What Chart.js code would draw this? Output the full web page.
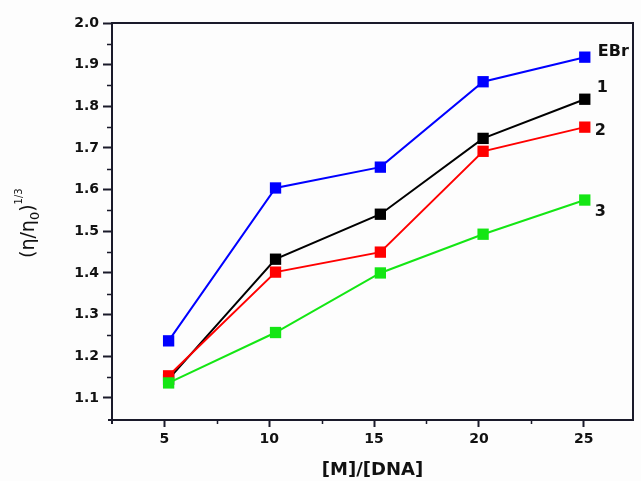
<!DOCTYPE html>
<html>
<head>
<meta charset="utf-8">
<script src="https://cdn.jsdelivr.net/npm/chart.js@4/dist/chart.umd.min.js"></script>
<style>
	html, body { margin: 0; padding: 0; background: #fdfdfd; }
	canvas { display: block; }
</style>
</head>
<body>
<canvas id="viscosityChart" width="641" height="481"></canvas>
<script>
// [M]/[DNA] ratios and relative viscosity (eta/eta0)^(1/3) per compound
const ratios = [ 5.2, 10.3, 15.3, 20.2, 25.05 ];
const ebrValues = [ 1.237, 1.604, 1.654, 1.859, 1.918 ];
const c1Values = [ 1.145, 1.433, 1.541, 1.723, 1.817 ];
const c2Values = [ 1.153, 1.402, 1.450, 1.692, 1.750 ];
const c3Values = [ 1.136, 1.257, 1.400, 1.493, 1.575 ];

const xTicks = [ 5, 10, 15, 20, 25 ];
const xMinorTicks = [ 7.5, 12.5, 17.5, 22.5 ];
const yTicks = [ 1.1, 1.2, 1.3, 1.4, 1.5, 1.6, 1.7, 1.8, 1.9, 2.0 ];
const yMinorTicks = [ 1.15, 1.25, 1.35, 1.45, 1.55, 1.65, 1.75, 1.85, 1.95 ];

const AXIS_FONT = 'DejaVu Sans';

function toPoints( values ) {
	return values.map( ( v, i ) => ( { x: ratios[ i ], y: v } ) );
}

function series( label, values, color, order, tag ) {
	return {
		label,
		data: toPoints( values ),
		borderColor: color,
		backgroundColor: color,
		borderWidth: 2,
		pointStyle: 'rect',
		pointRadius: 8,
		pointHoverRadius: 8,
		pointBorderWidth: 0,
		tension: 0,
		order,
		tag
	};
}

// Frame, minor ticks, axis title and end-of-line labels
const decorations = {
	id: 'decorations',
	afterDraw( chart ) {
		const { ctx, chartArea: a, scales } = chart;
		const xs = scales.x;
		const ys = scales.y;
		ctx.save();
		ctx.strokeStyle = '#1a1a2a';
		ctx.lineWidth = 2;
		ctx.beginPath();
		ctx.moveTo( a.left - 1, a.top );
		ctx.lineTo( a.right, a.top );
		ctx.lineTo( a.right, a.bottom );
		ctx.moveTo( a.left - 4, a.bottom );
		ctx.lineTo( a.left, a.bottom );
		ctx.moveTo( a.left, a.bottom );
		ctx.lineTo( a.left, a.bottom + 4 );
		ctx.stroke();

		ctx.lineWidth = 1.5;
		ctx.beginPath();
		yMinorTicks.forEach( ( v ) => {
			const y = Math.round( ys.getPixelForValue( v ) ) + 0.5;
			ctx.moveTo( a.left - 5, y );
			ctx.lineTo( a.left, y );
		} );
		xMinorTicks.forEach( ( v ) => {
			const x = Math.round( xs.getPixelForValue( v ) ) + 0.5;
			ctx.moveTo( x, a.bottom );
			ctx.lineTo( x, a.bottom + 4 );
		} );
		ctx.stroke();

		// (η/η0)^1/3 rotated title
		ctx.fillStyle = '#111';
		ctx.translate( 34, 258 );
		ctx.rotate( -Math.PI / 2 );
		ctx.textBaseline = 'alphabetic';
		ctx.textAlign = 'left';
		let x = 0;
		ctx.font = '19px ' + AXIS_FONT;
		ctx.fillText( '(η/η', x, 0 );
		x += ctx.measureText( '(η/η' ).width;
		ctx.font = '13px ' + AXIS_FONT;
		ctx.fillText( '0', x, 5 );
		x += ctx.measureText( '0' ).width;
		ctx.font = '19px ' + AXIS_FONT;
		ctx.fillText( ')', x, 0 );
		x += ctx.measureText( ')' ).width;
		ctx.font = '10px ' + AXIS_FONT;
		ctx.fillText( '1/3', x, -12 );
		ctx.restore();

		// series names next to the last point of each line
		ctx.save();
		ctx.fillStyle = '#111';
		ctx.font = 'bold 16px ' + AXIS_FONT;
		ctx.textBaseline = 'middle';
		ctx.textAlign = 'left';
		chart.data.datasets.forEach( ( ds, i ) => {
			const pts = chart.getDatasetMeta( i ).data;
			const last = pts[ pts.length - 1 ];
			ctx.fillText( ds.label, last.x + ds.tag.dx, last.y + ds.tag.dy );
		} );
		ctx.restore();
	}
};

new Chart( document.getElementById( 'viscosityChart' ), {
	type: 'line',
	data: {
		datasets: [
			series( '3', c3Values, '#14e614', 0, { dx: 10, dy: 12 } ),
			series( '2', c2Values, '#ff0000', 1, { dx: 10, dy: 4 } ),
			series( '1', c1Values, '#000000', 2, { dx: 12, dy: -11 } ),
			series( 'EBr', ebrValues, '#0000ff', 3, { dx: 13, dy: -5 } )
		]
	},
	options: {
		responsive: false,
		animation: false,
		layout: { padding: { left: 0, top: 23, right: 1, bottom: 0 } },
		plugins: {
			legend: { display: false },
			tooltip: { enabled: false },
			title: { display: false }
		},
		scales: {
			x: {
				type: 'linear',
				min: 2.5,
				max: 27.35,
				afterBuildTicks: ( s ) => {
					s.ticks = xTicks.map( ( v ) => ( { value: v } ) );
				},
				afterFit: ( s ) => {
					s.height = 61;
					// tick labels sit well inside the axis, no edge room needed
					s.paddingLeft = 0;
					s.paddingRight = 0;
				},
				border: { display: true, color: '#1a1a2a', width: 2 },
				grid: {
					drawOnChartArea: false,
					drawTicks: true,
					tickLength: 7,
					tickColor: '#1a1a2a',
					tickWidth: 2
				},
				ticks: {
					color: '#111',
					padding: 4,
					maxRotation: 0,
					font: { family: AXIS_FONT, size: 14, weight: 'bold' }
				},
				title: {
					display: true,
					text: '[M]/[DNA]',
					color: '#111',
					padding: { top: 9, bottom: 0 },
					font: { family: AXIS_FONT, size: 18, weight: 'bold' }
				}
			},
			y: {
				type: 'linear',
				min: 1.047,
				max: 2.0,
				afterBuildTicks: ( s ) => {
					s.ticks = yTicks.map( ( v ) => ( { value: v } ) );
				},
				afterFit: ( s ) => {
					s.width = 112;
				},
				border: { display: true, color: '#1a1a2a', width: 2 },
				grid: {
					drawOnChartArea: false,
					drawTicks: true,
					tickLength: 9,
					tickColor: '#1a1a2a',
					tickWidth: 2
				},
				ticks: {
					color: '#111',
					padding: 4,
					callback: ( v ) => v.toFixed( 1 ),
					font: { family: AXIS_FONT, size: 14, weight: 'bold' }
				}
			}
		}
	},
	plugins: [ decorations ]
} );
</script>
</body>
</html>
